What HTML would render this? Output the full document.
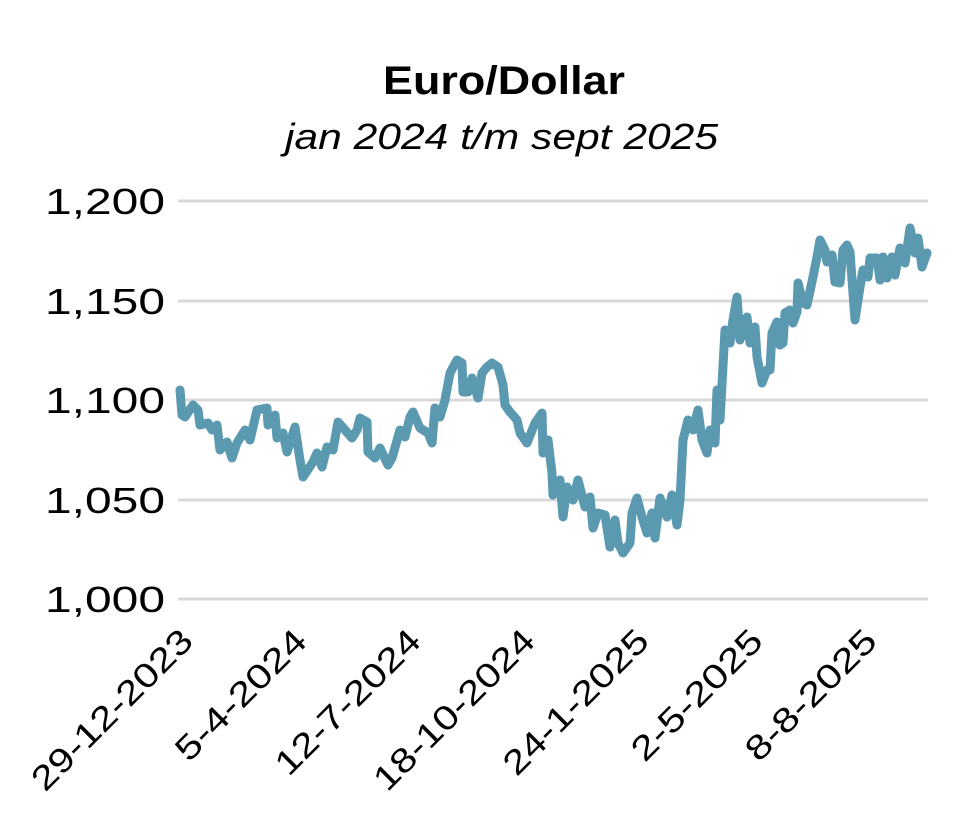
<!DOCTYPE html>
<html><head><meta charset="utf-8"><style>
body{margin:0;background:#fff;}
svg text{font-family:"Liberation Sans",Calibri,sans-serif;fill:#000;}
</style></head><body>
<svg width="976" height="826" viewBox="0 0 976 826" xmlns="http://www.w3.org/2000/svg">
<text x="383" y="94" font-size="40" font-weight="bold" textLength="242" lengthAdjust="spacingAndGlyphs">Euro/Dollar</text>
<text x="285" y="149" font-size="36" font-style="italic" textLength="433" lengthAdjust="spacingAndGlyphs">jan 2024 t/m sept 2025</text>
<g stroke="#d9d9d9" stroke-width="3">
<line x1="178" y1="201" x2="928" y2="201"/>
<line x1="178" y1="301" x2="928" y2="301"/>
<line x1="178" y1="400" x2="928" y2="400"/>
<line x1="178" y1="500" x2="928" y2="500"/>
<line x1="178" y1="599" x2="928" y2="599"/>
</g>
<g font-size="36">
<text x="45" y="214" textLength="120" lengthAdjust="spacingAndGlyphs">1,200</text>
<text x="45" y="314" textLength="120" lengthAdjust="spacingAndGlyphs">1,150</text>
<text x="45" y="413" textLength="120" lengthAdjust="spacingAndGlyphs">1,100</text>
<text x="45" y="513" textLength="120" lengthAdjust="spacingAndGlyphs">1,050</text>
<text x="45" y="612" textLength="120" lengthAdjust="spacingAndGlyphs">1,000</text>
</g>
<g font-size="34" text-anchor="end">
<text transform="translate(195,643) rotate(-45)" textLength="212" lengthAdjust="spacingAndGlyphs">29-12-2023</text>
<text transform="translate(309,643) rotate(-45)" textLength="170" lengthAdjust="spacingAndGlyphs">5-4-2024</text>
<text transform="translate(423,643) rotate(-45)" textLength="190" lengthAdjust="spacingAndGlyphs">12-7-2024</text>
<text transform="translate(537,643) rotate(-45)" textLength="212" lengthAdjust="spacingAndGlyphs">18-10-2024</text>
<text transform="translate(651,643) rotate(-45)" textLength="190" lengthAdjust="spacingAndGlyphs">24-1-2025</text>
<text transform="translate(765,643) rotate(-45)" textLength="170" lengthAdjust="spacingAndGlyphs">2-5-2025</text>
<text transform="translate(879,643) rotate(-45)" textLength="170" lengthAdjust="spacingAndGlyphs">8-8-2025</text>
</g>
<polyline fill="none" stroke="#5b99b1" stroke-width="9" stroke-linejoin="round" stroke-linecap="round" points="180,390 182,415 185,417 193,405 198,410 200,425 208,423 212,430 217,425 220,450 227,442 232,458 237,443 245,430 250,440 257,410 267,408 268,425 275,415 277,438 283,433 287,452 295,427 300,460 303,477 313,462 317,453 322,467 327,447 333,450 338,422 352,438 357,430 360,418 367,422 368,452 375,458 380,448 388,465 392,458 400,430 405,437 410,417 413,412 420,428 428,433 432,443 435,408 440,417 445,400 450,373 457,360 462,363 463,392 468,392 472,378 478,398 482,373 487,367 492,363 498,367 503,385 505,405 510,412 517,420 520,433 527,443 535,423 542,413 543,453 548,440 552,473 553,495 560,480 563,517 567,487 573,500 578,480 585,507 590,497 593,528 598,513 605,515 610,547 615,520 618,543 623,553 630,543 632,513 637,498 642,517 647,533 652,513 655,538 660,498 667,517 672,495 677,525 680,500 683,440 688,420 693,430 698,410 702,440 707,453 710,430 715,443 717,390 720,420 725,330 730,343 733,320 737,297 740,340 747,317 750,343 755,327 757,357 762,383 767,370 770,370 772,333 777,322 780,345 783,343 785,313 790,310 793,323 797,312 798,283 803,303 807,305 813,277 817,257 820,240 825,250 827,262 832,255 835,282 840,283 843,250 847,245 850,252 855,320 860,287 863,270 868,277 870,258 877,258 880,280 883,257 887,278 892,257 895,275 900,248 905,263 910,228 915,253 918,238 922,267 927,253"/>
</svg>
</body></html>
